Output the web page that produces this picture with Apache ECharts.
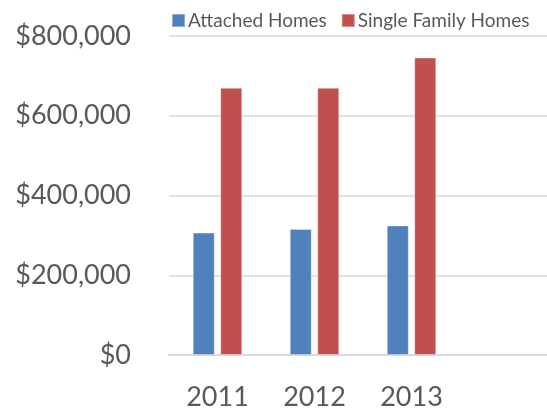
<!DOCTYPE html>
<html>
<head>
<meta charset="utf-8">
<script src="https://cdn.jsdelivr.net/npm/echarts@6/dist/echarts.min.js"></script>
<style>html,body{margin:0;padding:0;background:#fff;overflow:hidden;}#c{width:557px;height:412px;}</style>
</head>
<body>
<div id="c"></div>
<script>
var categories = ['2011', '2012', '2013', ''];
var attachedHomes = [307000, 316000, 325000, null];
var singleFamilyHomes = [670000, 670000, 746000, null];
var seriesNames = ['Attached Homes', 'Single Family Homes'];

var chart = echarts.init(document.getElementById('c'));
chart.setOption({
  animation: false,
  backgroundColor: '#fff',
  textStyle: { fontFamily: 'Lato' },
  legend: {
    left: 166, top: 6,
    itemWidth: 13, itemHeight: 13, itemGap: 14,
    icon: 'rect',
    textStyle: { fontFamily: 'Lato', fontSize: 19, color: '#595959', padding: [0, 0, 0, -2] },
    data: seriesNames
  },
  grid: { left: 169, right: 0, top: 36, bottom: 57, containLabel: false },
  xAxis: {
    type: 'category',
    data: categories,
    axisLine: { lineStyle: { color: '#d9d9d9', width: 2 } },
    axisTick: { show: false },
    axisLabel: { fontFamily: 'Lato', fontSize: 27, color: '#595959', margin: 29 }
  },
  yAxis: {
    type: 'value',
    min: 0, max: 800000, interval: 200000,
    axisLine: { show: false },
    axisTick: { show: false },
    splitLine: { lineStyle: { color: '#d9d9d9', width: 1.5 } },
    axisLabel: {
      fontFamily: 'Lato', fontSize: 27, color: '#595959', margin: 38,
      formatter: function (v) { return '$' + v.toLocaleString('en-US'); }
    }
  },
  series: [
    { name: seriesNames[0], type: 'bar', data: attachedHomes, barWidth: 22, barGap: '25%',
      itemStyle: { color: '#4f81bd', borderColor: 'rgba(255,255,255,0.35)', borderWidth: 1 } },
    { name: seriesNames[1], type: 'bar', data: singleFamilyHomes, barWidth: 22, barGap: '25%',
      itemStyle: { color: '#c0504d', borderColor: 'rgba(255,255,255,0.35)', borderWidth: 1 } }
  ]
});
</script>
</body>
</html>
